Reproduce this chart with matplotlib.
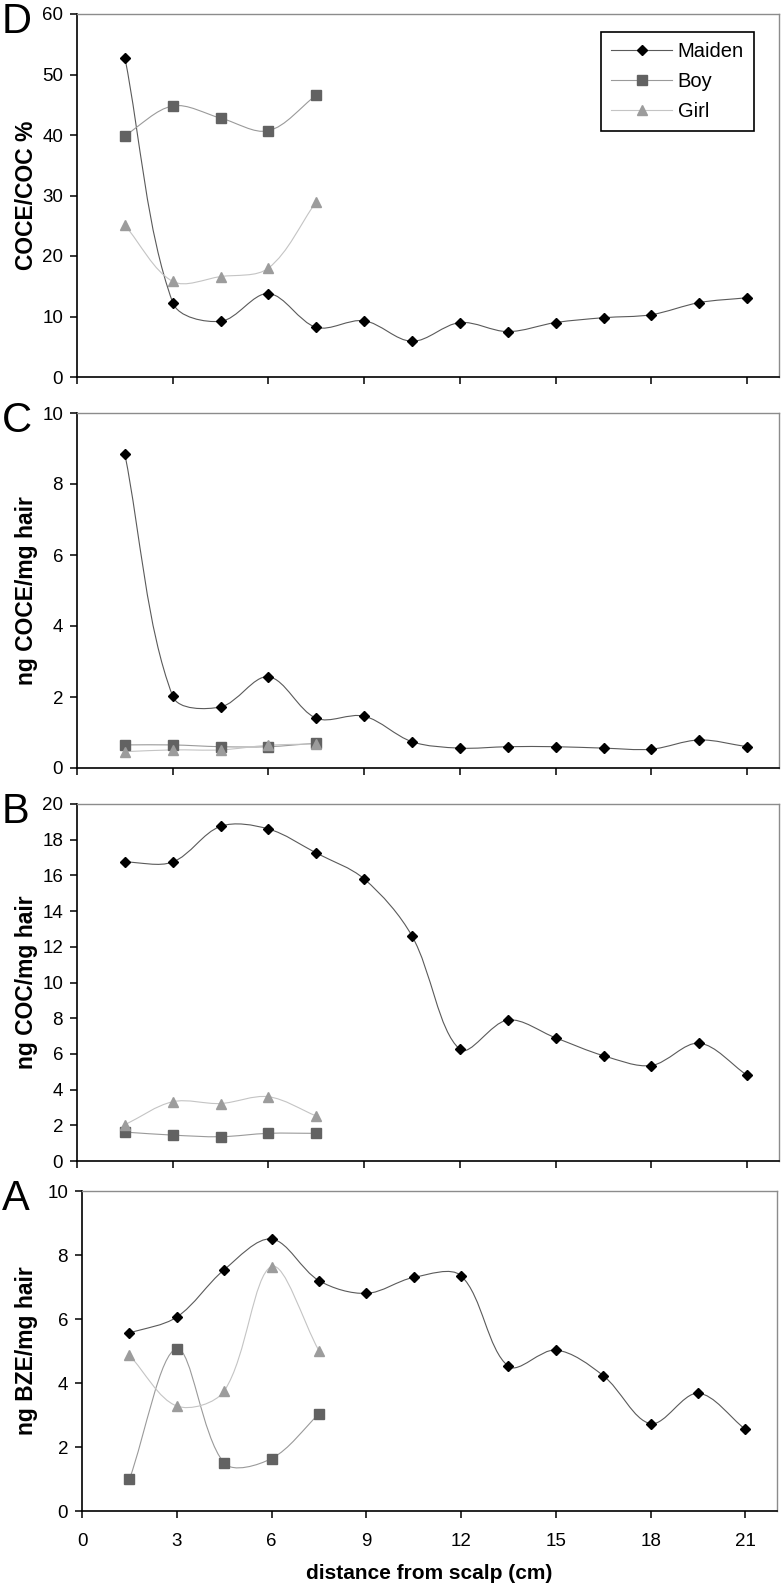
import numpy as np
import matplotlib
matplotlib.use("Agg")
import matplotlib.pyplot as plt
from matplotlib.path import Path
from matplotlib.patches import PathPatch

plt.rcParams['font.family'] = ['Liberation Sans', 'DejaVu Sans']

# distance from scalp (cm)
x_maiden = [1.5, 3, 4.5, 6, 7.5, 9, 10.5, 12, 13.5, 15, 16.5, 18, 19.5, 21]
x_child = [1.5, 3, 4.5, 6, 7.5]

# D: COCE/COC %
d_maiden = [52.8, 12.3, 9.2, 13.8, 8.2, 9.3, 5.9, 9.0, 7.5, 9.0, 9.8, 10.3, 12.3, 13.1]
d_boy = [39.9, 44.8, 42.8, 40.7, 46.6]
d_girl = [25.1, 15.8, 16.6, 18.0, 29.0]

# C: ng COCE/mg hair
c_maiden = [8.84, 2.02, 1.72, 2.57, 1.40, 1.46, 0.74, 0.56, 0.60, 0.60, 0.56, 0.53, 0.79, 0.60]
c_boy = [0.65, 0.65, 0.60, 0.60, 0.70]
c_girl = [0.46, 0.51, 0.51, 0.64, 0.68]

# B: ng COC/mg hair
b_maiden = [16.75, 16.75, 18.75, 18.6, 17.25, 15.8, 12.6, 6.25, 7.9, 6.9, 5.9, 5.35, 6.6, 4.8]
b_boy = [1.62, 1.45, 1.36, 1.55, 1.55]
b_girl = [2.03, 3.32, 3.22, 3.6, 2.52]

# A: ng BZE/mg hair
a_maiden = [5.56, 6.06, 7.54, 8.50, 7.20, 6.80, 7.30, 7.35, 4.52, 5.03, 4.23, 2.73, 3.68, 2.55]
a_boy = [0.99, 5.07, 1.50, 1.64, 3.03]
a_girl = [4.87, 3.28, 3.75, 7.64, 5.01]

panels = [
    ("D", "COCE/COC %", 60, 10, d_maiden, d_boy, d_girl),
    ("C", "ng COCE/mg hair", 10, 2, c_maiden, c_boy, c_girl),
    ("B", "ng COC/mg hair", 20, 2, b_maiden, b_boy, b_girl),
    ("A", "ng BZE/mg hair", 10, 2, a_maiden, a_boy, a_girl),
]

# pixel boxes of each panel: left, right, top, bottom
boxes = [(77, 779, 14, 377), (77, 779, 413, 768), (77, 779, 804, 1161), (82, 777, 1191, 1511)]

W, H = 783, 1592
fig = plt.figure(figsize=(W / 100, H / 100), dpi=100)


def smooth(ax, x, y, color):
    # smoothed line like excel: bezier through the points,
    # handle lengths scaled by the neighbouring segment lengths on screen
    p = np.column_stack([x, y]).astype(float)
    s = ax.transData.transform(p)
    n = len(p)
    t = 1 / 3
    cin = [None] * n
    cout = [None] * n
    for i in range(n):
        a = p[i - 1] if i > 0 else p[i]
        c = p[i + 1] if i < n - 1 else p[i]
        sa = s[i - 1] if i > 0 else s[i]
        sc = s[i + 1] if i < n - 1 else s[i]
        d0 = np.hypot(*(s[i] - sa))
        d1 = np.hypot(*(sc - s[i]))
        tot = d0 + d1 if d0 + d1 > 0 else 1
        cout[i] = p[i] + (c - a) * t * d1 / tot
        cin[i] = p[i] - (c - a) * t * d0 / tot
    verts = [p[0]]
    codes = [Path.MOVETO]
    for i in range(n - 1):
        verts += [cout[i], cin[i + 1], p[i + 1]]
        codes += [Path.CURVE4] * 3
    ax.add_patch(PathPatch(Path(verts, codes), fill=False, edgecolor=color, lw=0.8, zorder=2))


for k, (letter, ylab, ymax, ystep, ym, yb, yg) in enumerate(panels):
    l, r, t, b = boxes[k]
    ax = fig.add_axes([l / W, 1 - b / H, (r - l) / W, (b - t) / H])
    ax.set_xlim(0, 22)
    ax.set_ylim(0, ymax)
    smooth(ax, x_maiden, ym, "#5a5a5a")
    smooth(ax, x_child, yb, "#9a9a9a")
    smooth(ax, x_child, yg, "#c4c4c4")
    ax.plot(x_maiden, ym, ls="none", marker="D", ms=5.6, color="black", zorder=4)
    ax.plot(x_child, yb, ls="none", marker="s", ms=6.6, color="#626262", zorder=3)
    ax.plot(x_child, yg, ls="none", marker="^", ms=7.8, color="#9c9c9c", zorder=3)
    ax.set_xticks(range(0, 22, 3))
    ax.set_yticks(np.arange(0, ymax + ystep / 2, ystep))
    ax.tick_params(direction="out", length=5, width=1.1, labelsize=13.5, color="black")
    ax.tick_params(axis="y", pad=5)
    ax.tick_params(axis="x", pad=11)
    for sp in ["left", "bottom"]:
        ax.spines[sp].set_color("black")
        ax.spines[sp].set_linewidth(1.2)
    for sp in ["top", "right"]:
        ax.spines[sp].set_color("#8c8c8c")
        ax.spines[sp].set_linewidth(1.0)
    if letter != "A":
        ax.set_xticklabels([])
    ax.text((27 - l) / (r - l), 0.5, ylab, transform=ax.transAxes, rotation=90,
            ha="center", va="center", fontsize=16.5, fontweight="bold")
    fig.text(2 / W, 1 - (t - 12) / H, letter, fontsize=30, ha="left", va="top")

    if letter == "D":
        ax.plot([], [], color="#5a5a5a", lw=0.8, marker="D", ms=5.6, mfc="black", mec="black", label="Maiden")
        ax.plot([], [], color="#9a9a9a", lw=0.8, marker="s", ms=6.6, mfc="#626262", mec="#626262", label="Boy")
        ax.plot([], [], color="#c4c4c4", lw=0.8, marker="^", ms=7.8, mfc="#9c9c9c", mec="#9c9c9c", label="Girl")
        leg = ax.legend(loc="upper right", bbox_to_anchor=((754 - l) / (r - l), 1 - (32 - t) / (b - t)),
                        borderaxespad=0, fontsize=14.5, handlelength=3.0, handletextpad=0.3,
                        labelspacing=0.55, borderpad=0.5, fancybox=False, framealpha=1)
        leg.get_frame().set_edgecolor("black")
        leg.get_frame().set_linewidth(1.2)
    if letter == "A":
        ax.set_xlabel("distance from scalp (cm)", fontsize=15, fontweight="bold", labelpad=10)

fig.savefig("out.png", dpi=100)
